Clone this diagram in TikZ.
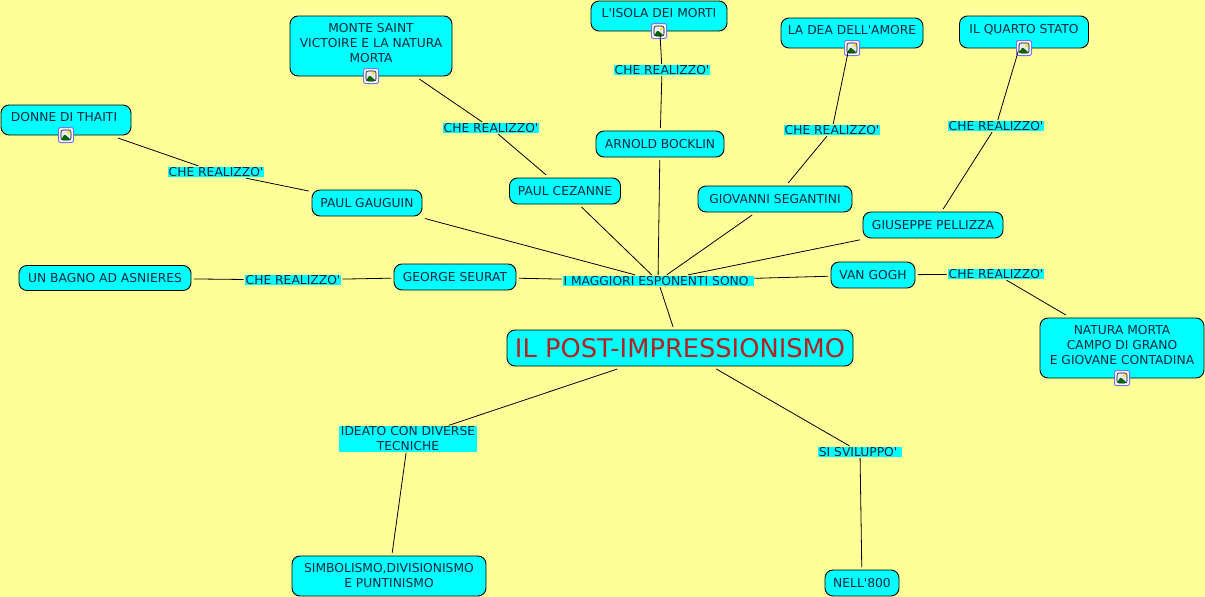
\documentclass[tikz,border=0pt]{standalone}
\usepackage{fontspec}
\setmainfont[Ligatures=TeXOff]{DejaVu Sans}
\definecolor{sfondo}{HTML}{FFFF99}
\definecolor{ciano}{HTML}{00FFFF}
\definecolor{titolo}{HTML}{B22222}
\definecolor{testo}{HTML}{0A2A3A}
\usetikzlibrary{positioning}
\begin{document}
\begin{tikzpicture}[x=1pt,y=-1pt,font=\fontsize{12.3}{15}\selectfont,text=testo,
box/.style={draw=black,fill=ciano,rounded corners=8pt,line width=.9pt,align=center,inner sep=0pt,outer sep=3pt},
boxi/.style={box,text depth=5.5pt},
tag/.style={fill=ciano,align=center,inner xsep=1pt,inner ysep=.5pt,outer sep=1pt},
link/.style={draw=black,line width=.8pt},
icon/.style={draw=blue!55!white,fill=white,rounded corners=2pt,line width=1pt,minimum size=15pt,inner sep=0pt,yshift=3pt,
  path picture={
    \draw[black,fill=blue!8,line width=.6pt] ([xshift=2.5pt,yshift=2.5pt]path picture bounding box.south west) rectangle ([xshift=-2.5pt,yshift=-2.5pt]path picture bounding box.north east);
    \fill[green!40!black] ([xshift=2.5pt,yshift=2.5pt]path picture bounding box.south west) -- ++(3.5pt,6pt) -- ++(6.5pt,-6pt) -- cycle;
    \fill[yellow!80!orange] ([xshift=-5pt,yshift=-5pt]path picture bounding box.north east) circle (1.6pt);
  }}]
\path[fill=sfondo] (0,0) rectangle (1205,597);
\node[box,minimum width=346pt,minimum height=36pt,font=\fontsize{25.7}{30}\selectfont,text=titolo] (post) at (680,348) {IL POST-IMPRESSIONISMO};
\node[tag] (esponenti) at (658,281) {I MAGGIORI ESPONENTI SONO\ };
\node[box,minimum width=122pt,minimum height=26pt] (seurat) at (455,277) {GEORGE SEURAT};
\node[box,minimum width=110pt,minimum height=26pt] (gauguin) at (367,203) {PAUL GAUGUIN};
\node[box,minimum width=111pt,minimum height=26pt] (cezanne) at (565,191) {PAUL CEZANNE};
\node[box,minimum width=128pt,minimum height=26pt] (bocklin) at (660,144) {ARNOLD BOCKLIN};
\node[box,minimum width=154pt,minimum height=26pt] (segantini) at (775,199) {GIOVANNI SEGANTINI};
\node[box,minimum width=140pt,minimum height=26pt] (pellizza) at (933,225) {GIUSEPPE PELLIZZA};
\node[box,minimum width=84pt,minimum height=26pt] (vangogh) at (873,275) {VAN GOGH};
\node[box,minimum width=172pt,minimum height=25pt] (bagno) at (105,278) {UN BAGNO AD ASNIERES};
\node[boxi,minimum width=130pt,minimum height=30pt] (thaiti) at (66,120) {DONNE DI THAITI\ };
\node[boxi,minimum width=162pt,minimum height=60pt] (monte) at (371,46) {MONTE SAINT\\VICTOIRE E LA NATURA\\MORTA};
\node[boxi,minimum width=136pt,minimum height=30pt] (isola) at (659,16) {L'ISOLA DEI MORTI};
\node[boxi,minimum width=142pt,minimum height=30pt] (dea) at (852,33) {LA DEA DELL'AMORE};
\node[boxi,minimum width=129pt,minimum height=32pt] (quarto) at (1024,32) {IL QUARTO STATO};
\node[boxi,minimum width=164pt,minimum height=60pt] (natura) at (1122,348) {NATURA MORTA\\CAMPO DI GRANO\\E GIOVANE CONTADINA};
\node[box,minimum width=194pt,minimum height=40pt] (simbolismo) at (389,576) {SIMBOLISMO,DIVISIONISMO\\E PUNTINISMO};
\node[box,minimum width=74pt,minimum height=26pt] (nell) at (862,583) {NELL'800};
\node[tag] (real1) at (216,172) {CHE REALIZZO'};
\node[tag] (real2) at (491,128) {CHE REALIZZO'};
\node[tag] (real3) at (662,70) {CHE REALIZZO'};
\node[tag] (real4) at (832,130) {CHE REALIZZO'};
\node[tag] (real5) at (996,126) {CHE REALIZZO'};
\node[tag] (real6) at (293,280) {CHE REALIZZO'};
\node[tag] (real7) at (996,274) {CHE REALIZZO'};
\node[tag,minimum width=138pt] (ideato) at (408,439) {IDEATO CON DIVERSE\\TECNICHE};
\node[tag] (sviluppo) at (860,452) {SI SVILUPPO'\ };
\node[icon] (iconthaiti) at (thaiti.south) {};
\node[icon] (iconmonte) at (monte.south) {};
\node[icon] (iconisola) at (isola.south) {};
\node[icon] (icondea) at (dea.south) {};
\node[icon] (iconquarto) at (quarto.south) {};
\node[icon] (iconnatura) at (natura.south) {};
\draw[link] (thaiti)--(real1) (real1)--(gauguin);
\draw[link] (monte)--(real2) (real2)--(cezanne);
\draw[link] (isola)--(real3) (real3)--(bocklin);
\draw[link] (dea)--(real4) (real4)--(segantini);
\draw[link] (quarto)--(real5) (real5)--(pellizza);
\draw[link] (bagno)--(real6) (real6)--(seurat);
\draw[link] (vangogh)--(real7) (real7)--(natura);
\foreach \n in {seurat,gauguin,cezanne,bocklin,segantini,pellizza,vangogh}
  \draw[link] (\n)--(esponenti);
\draw[link] (esponenti)--(post);
\draw[link] (post)--(ideato);
\draw[link] (ideato)--(simbolismo);
\draw[link] (post)--(sviluppo);
\draw[link] (sviluppo)--(nell);
\end{tikzpicture}
\end{document}
